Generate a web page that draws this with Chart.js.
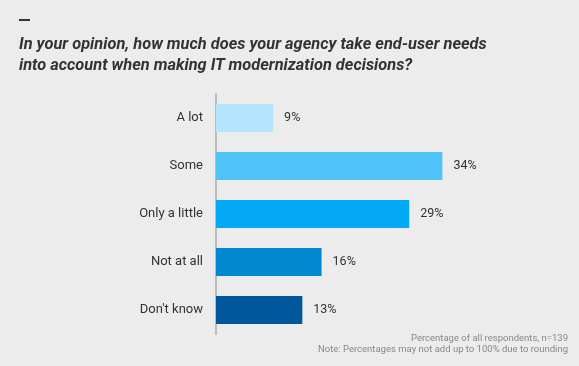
<!DOCTYPE html>
<html>
<head>
<meta charset="utf-8">
<script src="https://cdn.jsdelivr.net/npm/chart.js@4"></script>
<style>
  body { margin: 0; background: #ececec; font-family: Roboto, sans-serif; }
  #wrap { position: relative; width: 579px; height: 366px; overflow: hidden; }
  #chart { position: absolute; left: 0; top: 0; }
  .dash { position: absolute; left: 19px; top: 19px; width: 11px; height: 2px; background: #333; }
  .title { position: absolute; left: 19px; top: 33px; width: 560px; font-size: 16.4px; line-height: 21px;
           font-weight: bold; font-style: italic; color: #333; }
  .note { position: absolute; right: 11px; font-size: 9.5px; color: #888; text-align: right; white-space: nowrap; }
</style>
</head>
<body>
<div id="wrap">
  <canvas id="chart" width="579" height="366"></canvas>
  <div class="dash"></div>
  <div class="title">In your opinion, how much does your agency take end-user needs<br>into account when making IT modernization decisions?</div>
  <div class="note" style="top:332px">Percentage of all respondents, n=139</div>
  <div class="note" style="top:343px">Note: Percentages may not add up to 100% due to rounding</div>
</div>
<script>
const categories = ['A lot', 'Some', 'Only a little', 'Not at all', "Don't know"];
const values = [8.6, 34.1, 29.1, 15.9, 13.0];
const barColors = ['#b3e5fc', '#4fc3f7', '#03a9f4', '#0288d1', '#01579b'];

// percentage labels at the end of each bar
const valueLabels = {
    id: 'valueLabels',
    afterDatasetsDraw(chart) {
        const ctx = chart.ctx;
        const meta = chart.getDatasetMeta(0);
        ctx.save();
        ctx.font = '12.5px Roboto';
        ctx.fillStyle = '#333';
        ctx.textBaseline = 'middle';
        meta.data.forEach((bar, i) => {
            ctx.fillText(Math.round(values[i]) + '%', bar.x + 11, bar.y);
        });
        ctx.restore();
    }
};

const ctx = document.getElementById('chart').getContext('2d');
const myChart = new Chart(ctx, {
    type: 'bar',
    data: {
        labels: categories,
        datasets: [{
            data: values,
            backgroundColor: barColors,
            borderWidth: 0,
            barPercentage: 0.58,
            categoryPercentage: 1
        }]
    },
    options: {
        indexAxis: 'y',
        responsive: false,
        animation: false,
        layout: { padding: { top: 94, bottom: 32, left: 0, right: 31 } },
        plugins: { legend: { display: false }, tooltip: { enabled: false } },
        scales: {
            x: { min: 0, max: 50, display: false },
            y: {
                afterFit: (scale) => { scale.width = 216; },
                grid: { display: false, drawTicks: false },
                border: { color: '#bdbdbd', width: 2 },
                ticks: { color: '#333', padding: 13, font: { family: 'Roboto', size: 13 } }
            }
        }
    },
    plugins: [valueLabels]
});
</script>
</body>
</html>
